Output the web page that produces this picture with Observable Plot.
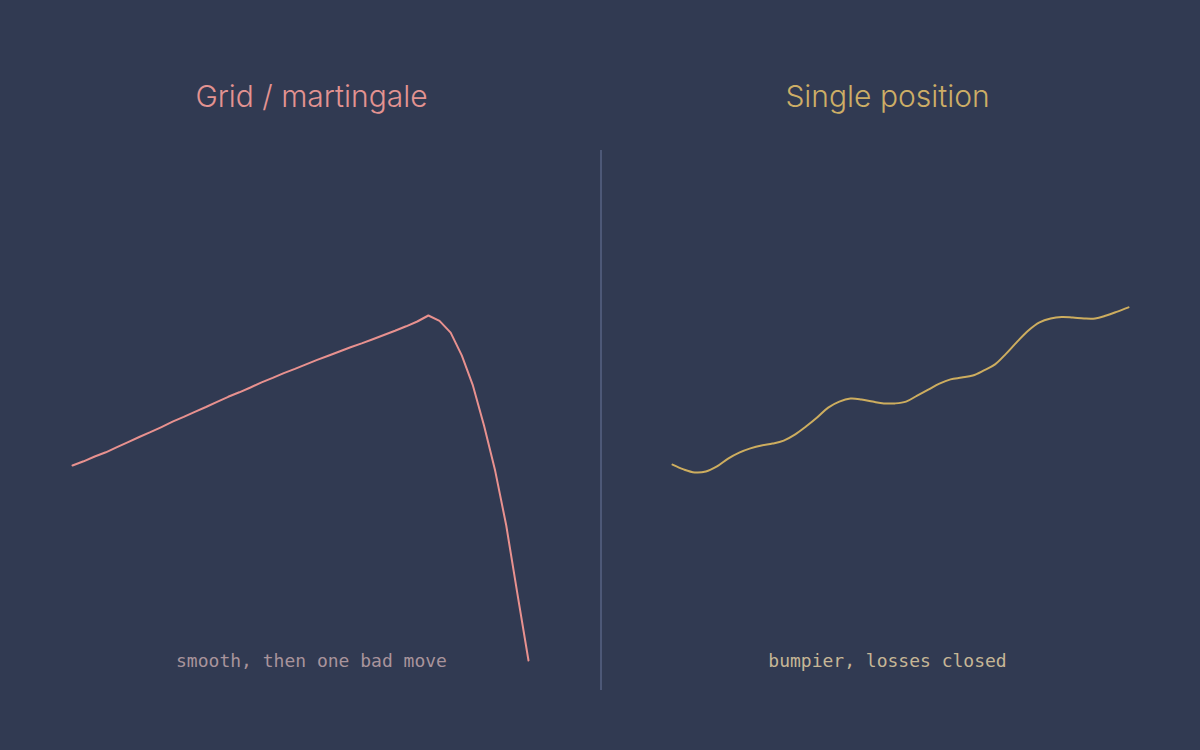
<!DOCTYPE html>
<html>
<head>
<meta charset="utf-8">
<script src="https://cdn.jsdelivr.net/npm/d3@7"></script>
<script src="https://cdn.jsdelivr.net/npm/@observablehq/plot@0.6"></script>
<style>
  html, body { margin: 0; padding: 0; background: #313a52; }
  #wrap { position: relative; width: 1200px; height: 750px; background: #313a52; overflow: hidden; }
  #wrap svg { position: absolute; top: 0; background: transparent; }
  #divider { position: absolute; left: 600px; top: 150px; width: 1.5px; height: 540px; background: #4d5877; }
</style>
</head>
<body>
<div id="wrap"><div id="divider"></div></div>
<script>
// Equity curves (start = 100), one value per step
const gridEquity = [
  100.0, 101.4, 103.0, 104.4, 106.1, 107.8, 109.5, 111.1, 112.8, 114.6,
  116.2, 117.9, 119.5, 121.2, 122.9, 124.4, 126.0, 127.7, 129.2, 130.8,
  132.2, 133.7, 135.2, 136.6, 138.0, 139.4, 140.7, 142.1, 143.5, 144.9,
  146.4, 148.0, 150.0, 148.2, 144.3, 136.7, 126.7, 113.3, 98.3, 80.0,
  57.3, 35.0
];
const singleEquity = [
  100.3, 98.7, 97.7, 98.0, 99.7, 102.3, 104.3, 105.7, 106.7, 107.3,
  108.3, 110.3, 113.0, 116.0, 119.3, 121.3, 122.3, 122.0, 121.3, 120.7,
  120.7, 121.3, 123.3, 125.3, 127.3, 128.7, 129.3, 130.0, 131.7, 133.7,
  137.3, 141.3, 145.0, 147.7, 149.0, 149.5, 149.3, 149.0, 149.0, 150.0,
  151.3, 152.7
];
const titles = ["Grid / martingale", "Single position"];
const captions = ["smooth, then one bad move", "bumpier, losses closed"];
const lineColors = ["#e8918f", "#cdad5f"];
const titleColors = ["#e39391", "#cdae66"];
const captionColors = ["#a9949c", "#c6b696"];

const panels = [
  {data: gridEquity, curve: "linear", dx: 11},
  {data: singleEquity, curve: "catmull-rom", dx: -13}
];

const wrap = document.getElementById("wrap");
panels.forEach((p, k) => {
  const rows = p.data.map((v, i) => ({step: i, equity: v}));
  const chart = Plot.plot({
    width: 600,
    height: 750,
    marginLeft: 72,
    marginRight: 72,
    marginTop: 150,
    marginBottom: 60,
    x: {domain: [0, p.data.length - 1], axis: null},
    y: {domain: [25, 205], axis: null},
    style: {background: "transparent"},
    marks: [
      Plot.line(rows, {x: "step", y: "equity", stroke: lineColors[k], strokeWidth: 2, curve: p.curve}),
      Plot.text([titles[k]], {
        text: d => d, frameAnchor: "top", dx: p.dx, dy: -53, lineAnchor: "middle",
        fill: titleColors[k], fontSize: 30, fontWeight: 300,
        fontFamily: "Inter, 'Open Sans', sans-serif"
      }),
      Plot.text([captions[k]], {
        text: d => d, frameAnchor: "bottom", dx: p.dx, dy: -29, lineAnchor: "middle",
        fill: captionColors[k], fontSize: 18,
        fontFamily: "'DejaVu Sans Mono', monospace"
      })
    ]
  });
  chart.style.left = (k * 600) + "px";
  wrap.appendChild(chart);
});
</script>
</body>
</html>
